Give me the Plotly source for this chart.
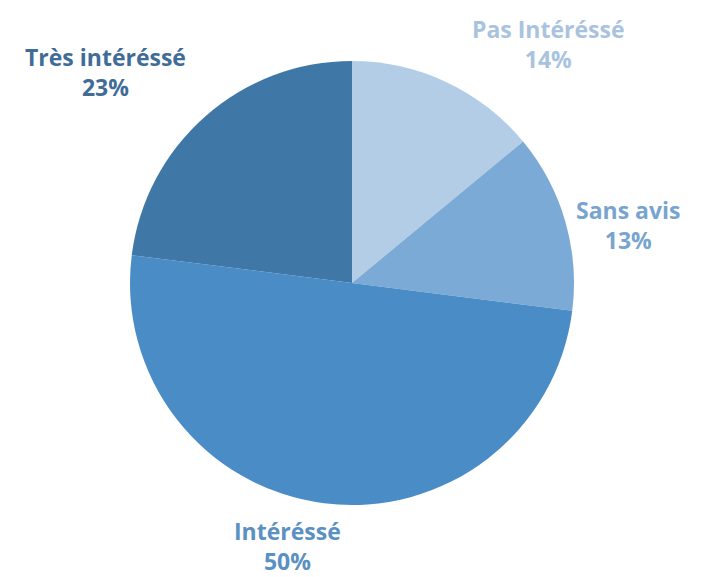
import plotly.graph_objects as go

labels = ["Pas intéressé", "Sans avis", "Intéressé", "Très intéressé"]
label_text = ["Pas Intéréssé", "Sans avis", "Intéréssé", "Très intéréssé"]
values = [14, 13, 50, 23]
slice_colors = ["#B4CDE6", "#7BAAD7", "#4A8DC6", "#3F78A7"]
text_colors = ["#A9C3DF", "#78A4CF", "#5A90C2", "#406C98"]

W, H = 704, 577
# page body adds an 8px offset; compensate
off = 8
ml, mr, mt, mb = 130 - off, 130 + off, 61 - off, 72 + off
pw, ph = W - ml - mr, H - mt - mb

# label anchor points in page pixels (layout placement of the annotations)
label_pos = [(548, 44), (628, 225), (287, 546), (105, 72)]

fig = go.Figure(go.Pie(
    labels=labels,
    values=values,
    sort=False,
    direction="clockwise",
    rotation=0,
    marker=dict(colors=slice_colors, line=dict(width=0)),
    textinfo="none",
    hoverinfo="label+percent",
    showlegend=False,
))

anns = []
for t, v, c, (px, py) in zip(label_text, values, text_colors, label_pos):
    px, py = px - off, py - off
    anns.append(dict(
        x=(px - ml) / pw, y=(H - mb - py) / ph,
        xref="paper", yref="paper",
        text=f"{t}<br>{v}%",
        showarrow=False,
        xanchor="center", yanchor="middle",
        align="center",
        font=dict(family="Open Sans", size=23, color=c, weight="bold"),
    ))

fig.update_layout(
    width=W, height=H,
    margin=dict(l=ml, r=mr, t=mt, b=mb),
    paper_bgcolor="white",
    plot_bgcolor="white",
    annotations=anns,
)

fig.write_html("out.html")
